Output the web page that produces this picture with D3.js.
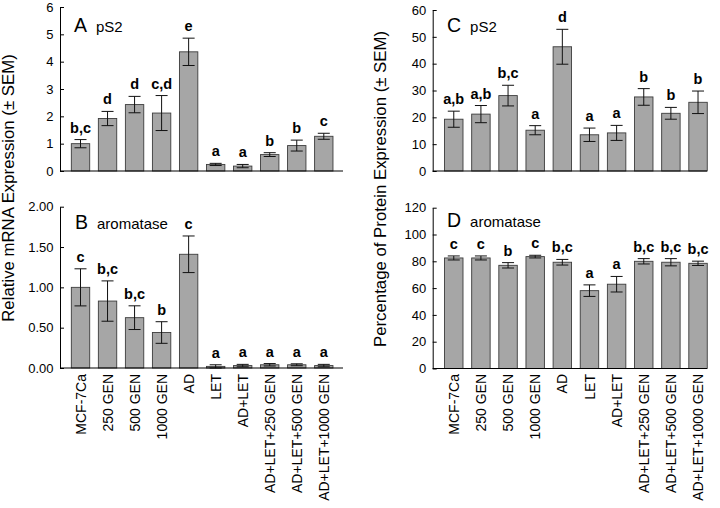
<!DOCTYPE html>
<html>
<head>
<meta charset="utf-8">
<script src="https://cdn.jsdelivr.net/npm/d3@7"></script>
<style>
  body { margin: 0; background: #fff; }
  svg { display: block; font-family: "Liberation Sans", Arial, sans-serif; }
</style>
</head>
<body>
<svg id="chart" width="720" height="508"></svg>
<script>
const groups = ["MCF-7Ca", "250 GEN", "500 GEN", "1000 GEN", "AD", "LET", "AD+LET",
  "AD+LET+250 GEN", "AD+LET+500 GEN", "AD+LET+1000 GEN"];

// mRNA (left column)
const mrnaPs2 = [1.0, 1.92, 2.43, 2.12, 4.36, 0.24, 0.18, 0.60, 0.93, 1.27];
const mrnaPs2Sem = [0.15, 0.26, 0.30, 0.64, 0.50, 0.04, 0.06, 0.07, 0.20, 0.11];
const mrnaPs2Sig = ["b,c", "d", "d", "c,d", "e", "a", "a", "b", "b", "c"];

const mrnaAro = [1.0, 0.83, 0.624, 0.44, 1.41, 0.02, 0.03, 0.04, 0.04, 0.03];
const mrnaAroSem = [0.23, 0.25, 0.147, 0.134, 0.227, 0.02, 0.015, 0.015, 0.012, 0.015];
const mrnaAroSig = ["c", "b,c", "b,c", "b", "c", "a", "a", "a", "a", "a"];

// protein (right column)
const protPs2 = [19.3, 21.2, 28.1, 15.2, 46.3, 13.5, 14.2, 27.6, 21.5, 25.6];
const protPs2Sem = [3.0, 3.2, 3.85, 1.7, 6.5, 2.5, 2.8, 3.1, 2.2, 4.2];
const protPs2Sig = ["a,b", "a,b", "b,c", "a", "d", "a", "a", "b", "b", "b"];

const protAro = [82.5, 82.5, 77.0, 83.5, 79.3, 58.1, 62.9, 80.0, 79.3, 78.5];
const protAroSem = [1.5, 1.5, 2.0, 1.0, 2.1, 4.3, 5.8, 2.0, 2.7, 1.6];
const protAroSig = ["c", "c", "b", "c", "b,c", "a", "a", "b,c", "b,c", "b,c"];

const ticksA = [0, 1, 2, 3, 4, 5, 6];
const ticksB = [0, 0.5, 1, 1.5, 2];
const ticksC = [0, 10, 20, 30, 40, 50, 60];
const ticksD = [0, 20, 40, 60, 80, 100, 120];

const svg = d3.select("#chart");

function drawPanel(p) {
  const g = svg.append("g");

  const x = d3.scaleBand()
    .domain(groups)
    .range(p.xr)
    .paddingInner(0.32)
    .paddingOuter(0.16);

  const y = d3.scaleLinear()
    .domain([0, p.ticks[p.ticks.length - 1]])
    .range(p.yr);

  // y axis, ticks pointing inward
  const ax = g.append("g")
    .attr("transform", `translate(${p.ax0},0)`)
    .call(d3.axisLeft(y).tickValues(p.ticks).tickFormat(p.fmt).tickSizeInner(-4).tickSizeOuter(0).tickPadding(6.5));
  ax.select(".domain").attr("stroke", "#000");
  ax.selectAll(".tick line").attr("stroke", "#000");
  ax.selectAll(".tick text").attr("font-size", 13).attr("fill", "#000")
    .attr("font-family", "Liberation Sans, Arial, sans-serif");

  // bars
  g.selectAll("rect.bar")
    .data(p.vals)
    .enter()
    .append("rect")
    .attr("class", "bar")
    .attr("x", (d, i) => x(groups[i]))
    .attr("width", x.bandwidth())
    .attr("y", d => y(d))
    .attr("height", d => y(0) - y(d))
    .attr("fill", "#a6a6a6")
    .attr("stroke", "#3c3c3c")
    .attr("stroke-width", 0.9);

  // error bars
  const cap = 6;
  const eb = g.selectAll("g.err")
    .data(p.vals)
    .enter()
    .append("g")
    .attr("class", "err")
    .attr("stroke", "#111")
    .attr("stroke-width", 1);
  eb.each(function(d, i) {
    const e = d3.select(this);
    const cx = x(groups[i]) + x.bandwidth() / 2;
    const hi = y(d + p.sem[i]);
    const lo = y(Math.max(0, d - p.sem[i]));
    e.append("line").attr("x1", cx).attr("x2", cx).attr("y1", hi).attr("y2", lo);
    e.append("line").attr("x1", cx - cap).attr("x2", cx + cap).attr("y1", hi).attr("y2", hi);
    e.append("line").attr("x1", cx - cap).attr("x2", cx + cap).attr("y1", lo).attr("y2", lo);
  });

  // significance letters
  g.selectAll("text.sig")
    .data(p.sig)
    .enter()
    .append("text")
    .attr("class", "sig")
    .attr("x", (d, i) => x(groups[i]) + x.bandwidth() / 2)
    .attr("y", (d, i) => y(p.vals[i] + p.sem[i]) - 7)
    .attr("text-anchor", "middle")
    .attr("font-size", 14.5)
    .attr("font-weight", "bold")
    .text(d => d);

  // baseline
  g.append("line")
    .attr("x1", p.ax0).attr("x2", p.ax1)
    .attr("y1", y(0)).attr("y2", y(0))
    .attr("stroke", "#000");

  // panel label
  const lab = g.append("text")
    .attr("x", p.lx)
    .attr("y", p.ly);
  lab.append("tspan").attr("font-size", 19.5).text(p.letter);
  lab.append("tspan").attr("font-size", 15).attr("dx", 9).text(p.name);

  // x labels
  if (p.xlabels) {
    g.selectAll("text.xl")
      .data(groups)
      .enter()
      .append("text")
      .attr("class", "xl")
      .attr("transform", d => `translate(${x(d) + x.bandwidth() / 2},374) rotate(-90)`)
      .attr("dy", "0.36em")
      .attr("text-anchor", "end")
      .attr("font-size", 14)
      .text(d => d);
  }
}

const leftX = [67, 337.3];
const rightX = [440.2, 711.6];

drawPanel({ vals: mrnaPs2, sem: mrnaPs2Sem, sig: mrnaPs2Sig, ticks: ticksA, fmt: d3.format("d"),
  xr: leftX, yr: [171, 7], ax0: 60, ax1: 343, lx: 74, ly: 32.3, letter: "A", name: "pS2" });
drawPanel({ vals: mrnaAro, sem: mrnaAroSem, sig: mrnaAroSig, ticks: ticksB, fmt: d3.format(".2f"),
  xr: leftX, yr: [368, 206.7], ax0: 60, ax1: 343, lx: 75, ly: 229.3, letter: "B", name: "aromatase", xlabels: true });
drawPanel({ vals: protPs2, sem: protPs2Sem, sig: protPs2Sig, ticks: ticksC, fmt: d3.format("d"),
  xr: rightX, yr: [171, 10], ax0: 432.7, ax1: 707, lx: 447, ly: 31.7, letter: "C", name: "pS2" });
drawPanel({ vals: protAro, sem: protAroSem, sig: protAroSig, ticks: ticksD, fmt: d3.format("d"),
  xr: rightX, yr: [368.5, 207.7], ax0: 432.7, ax1: 707, lx: 447, ly: 227.3, letter: "D", name: "aromatase", xlabels: true });

// axis titles
svg.append("text")
  .attr("transform", "translate(13.5,188) rotate(-90)")
  .attr("text-anchor", "middle")
  .attr("font-size", 16.8)
  .text("Relative mRNA Expression (\u00b1 SEM)");

svg.append("text")
  .attr("transform", "translate(386,189) rotate(-90)")
  .attr("text-anchor", "middle")
  .attr("font-size", 16.8)
  .text("Percentage of Protein Expression (\u00b1 SEM)");
</script>
</body>
</html>
